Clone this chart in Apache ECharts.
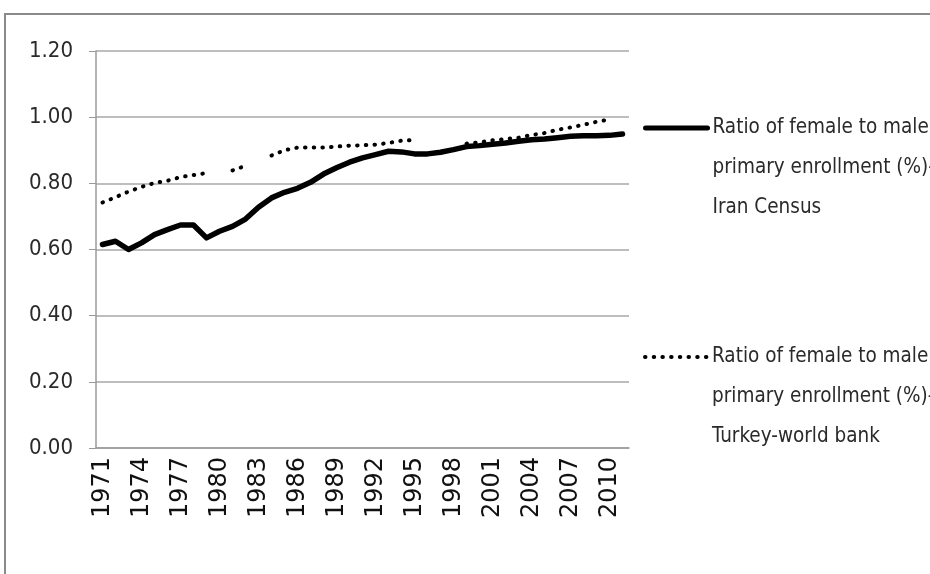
<!DOCTYPE html>
<html>
<head>
<meta charset="utf-8">
<script src="https://cdn.jsdelivr.net/npm/echarts@6/dist/echarts.min.js"></script>
<style>
  html, body { margin: 0; padding: 0; background: #fff; }
  #chart { width: 930px; height: 574px; }
</style>
</head>
<body>
<div id="chart"></div>
<script>
    // years on the x axis, 1971..2011
    const years = ["1971","1972","1973","1974","1975","1976","1977","1978","1979","1980",
        "1981","1982","1983","1984","1985","1986","1987","1988","1989","1990",
        "1991","1992","1993","1994","1995","1996","1997","1998","1999","2000",
        "2001","2002","2003","2004","2005","2006","2007","2008","2009","2010","2011"];

    const iranCensus = [0.615, 0.625, 0.600, 0.620, 0.645, 0.660, 0.674, 0.674, 0.635, 0.655,
        0.670, 0.692, 0.728, 0.756, 0.773, 0.785, 0.803, 0.828, 0.847, 0.864,
        0.877, 0.887, 0.897, 0.895, 0.889, 0.889, 0.894, 0.902, 0.911, 0.914,
        0.918, 0.922, 0.927, 0.932, 0.934, 0.938, 0.942, 0.944, 0.944, 0.945, 0.949];

    // world bank series has gaps (null = no value)
    const turkeyWorldBank = [0.742, 0.758, 0.775, 0.789, 0.801, 0.808, 0.819, 0.825, 0.831, null,
        0.839, 0.853, null, 0.884, 0.900, 0.908, 0.908, 0.908, 0.911, 0.914,
        0.915, 0.917, 0.922, 0.929, 0.931, null, null, null, 0.920, 0.924,
        0.930, 0.934, 0.938, 0.946, 0.952, 0.962, 0.969, 0.977, 0.986, 0.993, null];

    const seriesNames = [
        "Ratio of female to male\nprimary enrollment (%)-\nIran Census",
        "Ratio of female to male\nprimary enrollment (%)-\nTurkey-world bank"
    ];

    const narrowFont = "'Liberation Sans Narrow', 'DejaVu Sans Condensed', sans-serif";

    const chart = echarts.init(document.getElementById("chart"));
    const legendText = {
        fontFamily: narrowFont,
        fontSize: 20.5,
        lineHeight: 40,
        color: "#2a2a2a"
    };
    // two blank lines on top so the icon sits next to the first text line
    const legendFormatter = name => "\n\n" + name;
    const option = {
        backgroundColor: "#fff",
        animation: false,
        graphic: [
            {
                type: "rect",
                silent: true,
                shape: { x: 5, y: 14, width: 1000, height: 1000 },
                style: { fill: null, stroke: "#8a8a8a", lineWidth: 2 }
            }
        ],
        legend: [
            {
                data: [seriesNames[0]],
                left: 643,
                top: 28,
                padding: 0,
                itemWidth: 62,
                itemHeight: 4,
                formatter: legendFormatter,
                itemStyle: { opacity: 0 },
                lineStyle: { width: 5 },
                textStyle: legendText
            },
            {
                data: [seriesNames[1]],
                left: 643,
                top: 257,
                padding: 0,
                itemWidth: 62,
                itemHeight: 4,
                formatter: legendFormatter,
                itemStyle: { opacity: 0 },
                lineStyle: { width: 4 },
                textStyle: legendText
            }
        ],
        grid: {
            left: 96,
            right: 301,
            top: 51,
            bottom: 126
        },
        xAxis: {
            type: "category",
            data: years,
            boundaryGap: true,
            axisLine: { lineStyle: { color: "#9a9a9a", width: 1.5 } },
            axisTick: { interval: 0, length: 7, lineStyle: { color: "#9a9a9a" } },
            axisLabel: {
                interval: 2,
                rotate: 90,
                margin: 9,
                fontFamily: "'DejaVu Sans', sans-serif",
                fontSize: 24,
                color: "#111"
            }
        },
        yAxis: {
            type: "value",
            min: 0,
            max: 1.2,
            interval: 0.2,
            axisLine: { show: true, lineStyle: { color: "#9a9a9a", width: 1.5 } },
            axisTick: { show: true, length: 7, lineStyle: { color: "#9a9a9a" } },
            splitLine: { lineStyle: { color: "#a8a8a8", width: 1.5 } },
            axisLabel: {
                margin: 23,
                fontFamily: narrowFont,
                fontSize: 22,
                color: "#2a2a2a",
                formatter: v => v.toFixed(2)
            }
        },
        series: [
            {
                name: seriesNames[0],
                type: "line",
                data: iranCensus,
                symbol: "none",
                color: "#000",
                lineStyle: { color: "#000", width: 5.5, join: "round", cap: "round" }
            },
            {
                name: seriesNames[1],
                type: "line",
                data: turkeyWorldBank,
                symbol: "none",
                color: "#000",
                lineStyle: { color: "#000", width: 4, type: [0.5, 8.2], cap: "round" }
            }
        ]
    };
    chart.setOption(option);
</script>
</body>
</html>
